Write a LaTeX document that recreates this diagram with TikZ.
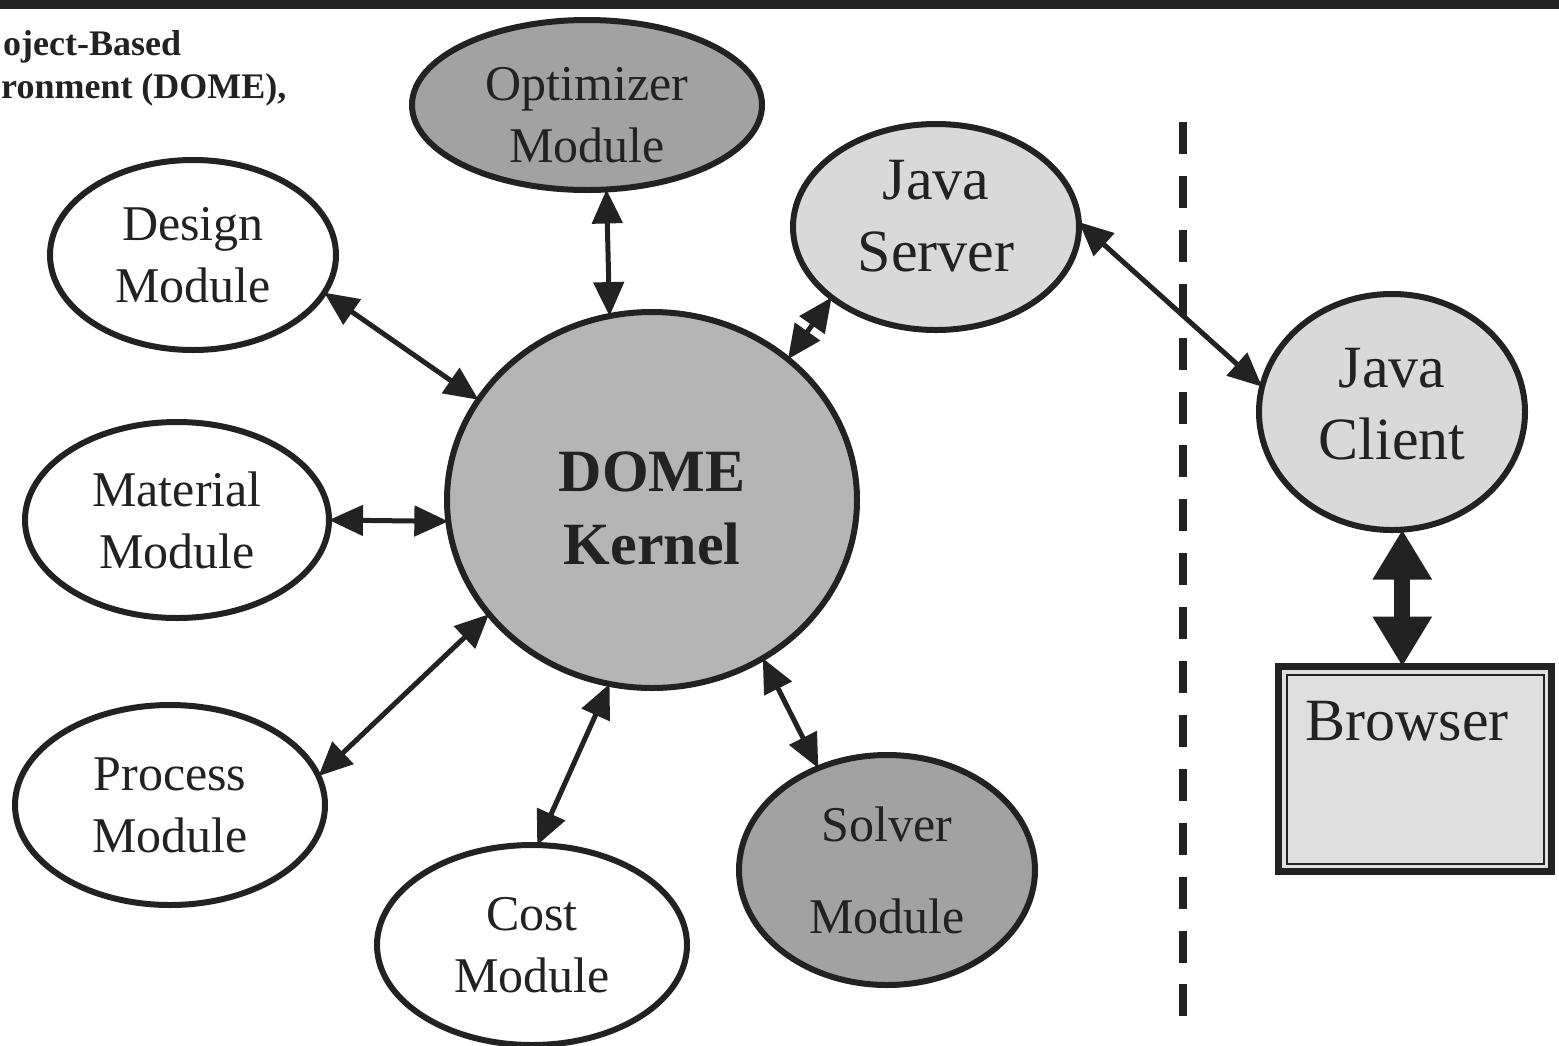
\documentclass[tikz,border=0pt]{standalone}
\usepackage{fontspec}
\setmainfont{Liberation Serif}
\usetikzlibrary{arrows.meta,shapes.geometric,calc}
\definecolor{ink}{HTML}{222222}
\definecolor{darkfill}{HTML}{A2A2A2}
\definecolor{kernfill}{HTML}{B5B5B5}
\definecolor{lightfill}{HTML}{D9D9D9}
\definecolor{boxfill}{HTML}{DFDFDF}
\tikzset{
  modbox/.style={ellipse, draw=ink, line width=6pt, inner sep=0pt, outer sep=0pt,
    align=center, text=ink, font=\fontsize{50}{62}\selectfont},
  javabox/.style={modbox, font=\fontsize{60}{72}\selectfont},
  link/.style={draw=ink, line width=5pt,
    {Triangle[length=34pt,width=30pt]}-{Triangle[length=34pt,width=30pt]}},
  biglink/.style={draw=ink, line width=16pt,
    {Triangle[length=50pt,width=56pt]}-{Triangle[length=50pt,width=56pt]}},
  titletext/.style={text=ink, font=\fontsize{36}{42}\selectfont\bfseries, inner sep=0pt}
}
\begin{document}
\begin{tikzpicture}[x=1pt,y=-1pt]
\useasboundingbox (0,0) rectangle (1559,1045);
\clip (0,0) rectangle (1559,1045);
\fill[white] (0,0) rectangle (1559,1045);
\fill[ink] (0,0) rectangle (1559,9);

% title text (as visible in the picture)
\node[titletext, anchor=base west] (title1) at (3,55) {oject-Based};
\node[titletext, anchor=base west] (title2) at (1,98) {ronment (DOME),};

% dashed divider
\coordinate (divtop) at (1183,122);
\coordinate (divbot) at (1183,1016);
\draw[ink, line width=8pt, dash pattern=on 32pt off 21.9pt] (divtop) -- (divbot);

% nodes
\node[modbox, fill=darkfill, minimum width=350pt, minimum height=170pt] (opt) at (587,105) {\rule{0pt}{54pt}Optimizer\\Module};
\node[modbox, fill=white, minimum width=286pt, minimum height=190pt] (design) at (193,255) {Design\\Module};
\node[modbox, fill=white, minimum width=304pt, minimum height=196pt] (material) at (177,520) {Material\\Module};
\node[modbox, fill=white, minimum width=310pt, minimum height=200pt] (process) at (170,805) {Process\\Module};
\node[modbox, fill=white, minimum width=310pt, minimum height=200pt] (cost) at (532,945) {Cost\\Module};
\node[modbox, fill=darkfill, minimum width=296pt, minimum height=230pt,
      font=\fontsize{50}{92}\selectfont] (solver) at (887,870) {Solver\\Module};
\node[modbox, fill=kernfill, minimum width=410pt, minimum height=376pt,
      font=\fontsize{60}{73}\selectfont\bfseries] (kernel) at (652,500) {\rule{0pt}{57pt}DOME\\Kernel};
\node[javabox, fill=lightfill, minimum width=286pt, minimum height=206pt] (server) at (936,227) {Java\\Server\rule[-22pt]{0pt}{0pt}};
\node[javabox, fill=lightfill, minimum width=266pt, minimum height=236pt] (client) at (1392,412) {Java\\Client\rule[-16pt]{0pt}{0pt}};

% browser
\node[rectangle, draw=ink, line width=7pt, fill=boxfill, inner sep=0pt, outer sep=0pt,
      minimum width=273pt, minimum height=205pt] (browser) at (1415,769) {};
\draw[ink, line width=2pt] ([shift={(8,8)}]browser.north west) rectangle ([shift={(-8,-8)}]browser.south east);
\node[anchor=base, inner sep=0pt, text=ink, font=\fontsize{60}{72}\selectfont] (browsertext) at (1407,740) {Browser};

% connectors
\draw[link] (opt.-77) -- (kernel.103.5);
\draw[link] (design.-16) -- (kernel.150);
\draw[link] (material.0) -- (kernel.186);
\draw[link] (process.11.5) -- (kernel.215.7);
\draw[link] (cost.87) -- (kernel.257.5);
\draw[link] (solver.124) -- (kernel.-55);
\draw[link] (server.214) -- (kernel.46);
\draw[link] (server.2) -- (client.169.5);
\draw[biglink] (client.-85) -- (client.-85 |- browser.north);
\end{tikzpicture}
\end{document}
